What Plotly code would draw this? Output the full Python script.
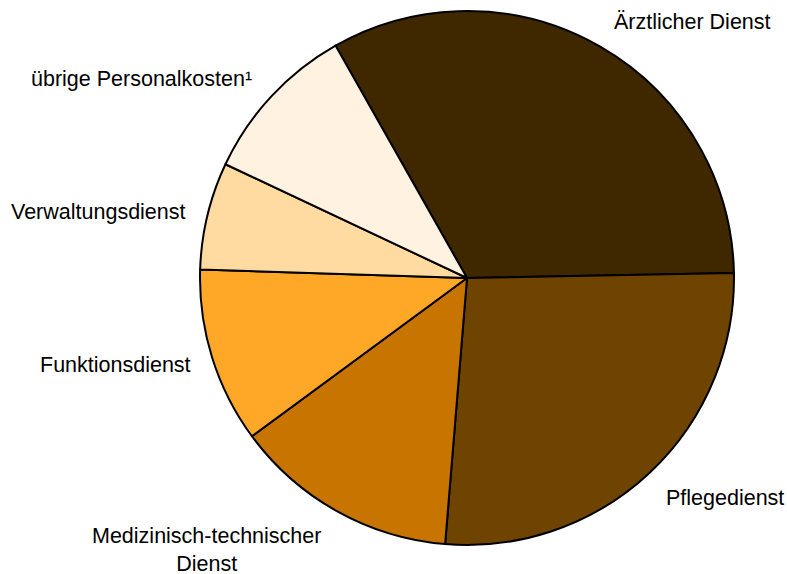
import plotly.graph_objects as go

categories = ["Ärztlicher Dienst", "Pflegedienst", "Medizinisch-technischer<br>Dienst",
              "Funktionsdienst", "Verwaltungsdienst", "übrige Personalkosten¹"]
values = [32.9, 26.6, 13.6, 10.6, 6.5, 9.8]
colors = ["#3f2700", "#6f4300", "#c87400", "#ffa828", "#ffdaa1", "#fff2e1"]

W, H = 787, 574
cx, cy, r = 467, 278, 267

# label positions in pixels (centre)
label_pos = [(692, 22), (725, 498), (206, 550), (115, 365), (98, 212), (141, 79)]

fig = go.Figure(go.Pie(
    labels=categories, values=values, sort=False, direction="clockwise",
    rotation=330.5, textinfo="none", hoverinfo="label+percent",
    marker=dict(colors=colors, line=dict(color="black", width=2)),
    domain=dict(x=[(cx - r) / W, (cx + r) / W], y=[1 - (cy + r) / H, 1 - (cy - r) / H]),
    showlegend=False,
))

for lab, (px, py) in zip(categories, label_pos):
    fig.add_annotation(text=lab, x=px / W, y=1 - py / H, xref="paper", yref="paper",
                       xanchor="center", yanchor="middle", showarrow=False,
                       font=dict(family="Liberation Sans, Arial, sans-serif", size=21.5, color="black"))

fig.update_layout(width=W, height=H, margin=dict(l=0, r=0, t=0, b=0),
                  paper_bgcolor="white", plot_bgcolor="white")
fig.write_html("out.html", config={"displayModeBar": False},
               post_script="document.body.style.margin='0px';document.body.style.overflow='hidden';")
